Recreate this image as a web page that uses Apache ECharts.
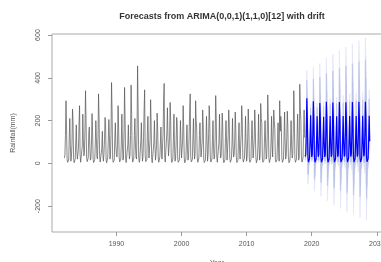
<!DOCTYPE html>
<html>
<head>
<meta charset="utf-8">
<script src="https://cdn.jsdelivr.net/npm/echarts@6/dist/echarts.min.js"></script>
<style>
  html, body { margin: 0; padding: 0; background: #fff; }
  #main { width: 381px; height: 262px; filter: blur(0.4px); }
</style>
</head>
<body>
<div id="main"></div>
<script>
// monthly rainfall (mm), one row per year, Jan..Dec
var obsStart = 1982;
var rainfall = [
  [25, 40, 130, 293, 160, 20, 5, 10, 15, 120, 210, 90],
  [10, 30, 90, 254, 200, 25, 3, 8, 20, 100, 180, 60],
  [20, 15, 70, 180, 270, 40, 5, 12, 10, 80, 230, 110],
  [35, 50, 160, 340, 190, 30, 8, 5, 25, 140, 170, 70],
  [15, 25, 100, 233, 150, 20, 4, 10, 18, 90, 200, 120],
  [30, 20, 120, 325, 210, 35, 6, 15, 12, 70, 150, 40],
  [10, 45, 110, 215, 180, 15, 3, 7, 30, 110, 205, 130],
  [20, 35, 140, 378, 240, 25, 5, 10, 15, 120, 190, 80],
  [40, 30, 90, 270, 170, 30, 7, 12, 20, 100, 230, 100],
  [15, 25, 150, 355, 200, 20, 4, 8, 10, 90, 180, 60],
  [20, 40, 130, 366, 230, 35, 6, 10, 25, 130, 210, 90],
  [30, 20, 160, 456, 260, 30, 5, 15, 20, 110, 190, 70],
  [10, 35, 120, 250, 344, 40, 8, 10, 18, 140, 220, 100],
  [25, 30, 110, 298, 180, 20, 3, 8, 12, 100, 200, 80],
  [15, 45, 90, 235, 160, 25, 5, 12, 30, 90, 170, 60],
  [20, 25, 140, 300, 374, 35, 6, 10, 15, 150, 260, 120],
  [35, 40, 120, 285, 200, 30, 4, 8, 20, 110, 230, 90],
  [10, 20, 90, 215, 190, 20, 5, 10, 15, 80, 200, 100],
  [25, 30, 110, 270, 170, 25, 3, 12, 20, 100, 180, 70],
  [15, 35, 130, 240, 325, 30, 7, 10, 18, 120, 210, 80],
  [20, 45, 293, 200, 160, 25, 5, 8, 25, 130, 190, 100],
  [30, 25, 100, 250, 180, 20, 4, 10, 15, 90, 220, 110],
  [10, 40, 140, 270, 200, 35, 6, 12, 20, 110, 200, 70],
  [20, 30, 120, 317, 210, 30, 5, 10, 12, 100, 230, 90],
  [25, 35, 110, 235, 170, 20, 3, 8, 18, 120, 200, 100],
  [15, 20, 130, 250, 190, 25, 5, 10, 20, 90, 210, 80],
  [30, 40, 100, 240, 160, 30, 4, 12, 15, 110, 190, 60],
  [20, 25, 140, 270, 200, 25, 6, 10, 25, 100, 220, 90],
  [10, 35, 120, 254, 180, 20, 5, 8, 18, 130, 200, 110],
  [25, 30, 110, 250, 170, 35, 3, 12, 20, 90, 230, 80],
  [15, 45, 280, 210, 190, 25, 5, 10, 15, 120, 200, 100],
  [20, 30, 130, 320, 200, 30, 4, 8, 25, 100, 220, 90],
  [30, 25, 250, 200, 160, 20, 6, 10, 18, 110, 190, 70],
  [10, 293, 150, 220, 180, 25, 5, 12, 20, 130, 240, 100],
  [20, 35, 120, 244, 170, 30, 3, 10, 15, 90, 200, 80],
  [25, 40, 140, 340, 210, 25, 5, 8, 20, 120, 230, 110],
  [15, 30, 370, 260, 200, 35, 6, 12, 25, 140, 250, 120]
];

// point forecasts 2019..2028
var fcStart = 2019;
var forecastMean = [
  [32, 42, 135, 305, 205, 32, 6, 11, 22, 112, 225, 102],
  [30, 40, 130, 290, 200, 30, 5, 10, 20, 110, 220, 100],
  [31, 41, 128, 282, 198, 31, 5, 10, 21, 108, 218, 99],
  [30, 40, 130, 288, 201, 30, 5, 10, 20, 110, 221, 100],
  [31, 41, 131, 285, 200, 31, 6, 11, 21, 111, 220, 101],
  [31, 41, 131, 287, 201, 31, 6, 11, 21, 111, 221, 101],
  [32, 42, 132, 286, 202, 32, 6, 11, 22, 112, 222, 102],
  [32, 42, 132, 287, 202, 32, 6, 11, 22, 112, 222, 102],
  [32, 42, 133, 288, 203, 32, 6, 12, 22, 113, 223, 103],
  [33, 43, 133, 288, 203, 33, 7, 12, 23, 113, 223, 103]
];

// half widths of the 95% interval
var width95 = [
  [20, 26, 78, 130, 130, 130, 78, 26, 20, 39, 52, 26],
  [24, 32, 96, 160, 160, 160, 96, 32, 24, 48, 64, 32],
  [28, 37, 111, 185, 185, 185, 111, 37, 28, 56, 74, 37],
  [31, 41, 123, 205, 205, 205, 123, 41, 31, 62, 82, 41],
  [34, 45, 135, 225, 225, 225, 135, 45, 34, 68, 90, 45],
  [36, 48, 145, 242, 242, 242, 145, 48, 36, 73, 97, 48],
  [39, 52, 155, 258, 258, 258, 155, 52, 39, 77, 103, 52],
  [41, 54, 163, 272, 272, 272, 163, 54, 41, 82, 109, 54],
  [43, 57, 172, 286, 286, 286, 172, 57, 43, 86, 114, 57],
  [45, 60, 180, 300, 300, 300, 180, 60, 45, 90, 120, 60]
];

// half widths of the 80% interval
var width80 = [
  [13, 17, 51, 85, 85, 85, 51, 17, 13, 26, 34, 17],
  [16, 21, 63, 105, 105, 105, 63, 21, 16, 31, 42, 21],
  [18, 24, 73, 121, 121, 121, 73, 24, 18, 37, 48, 24],
  [20, 27, 80, 134, 134, 134, 80, 27, 20, 41, 54, 27],
  [22, 29, 88, 147, 147, 147, 88, 29, 22, 44, 59, 29],
  [24, 31, 95, 158, 158, 158, 95, 31, 24, 48, 63, 31],
  [25, 34, 101, 169, 169, 169, 101, 34, 25, 50, 67, 34],
  [27, 35, 107, 178, 178, 178, 107, 35, 27, 54, 71, 35],
  [28, 37, 112, 187, 187, 187, 112, 37, 28, 56, 75, 37],
  [29, 39, 118, 196, 196, 196, 118, 39, 29, 59, 78, 39]
];

var xTicks = [1990, 2000, 2010, 2020, 2030];
var yTicks = [-200, 0, 200, 400, 600];

function toPoints(rows, start) {
  var out = [];
  rows.forEach(function (row, i) {
    row.forEach(function (v, m) {
      out.push([start + i + m / 12, v]);
    });
  });
  return out;
}

var obsData = toPoints(rainfall, obsStart);
var meanData = toPoints(forecastMean, fcStart);

// [x, lower, upper] per forecast month
function intervalPoints(widths) {
  var out = [];
  forecastMean.forEach(function (row, i) {
    row.forEach(function (v, m) {
      var w = widths[i][m];
      out.push([fcStart + i + m / 12, v - w, v + w]);
    });
  });
  return out;
}

// one quad per pair of neighbouring months
function segments(pts) {
  var out = [];
  for (var i = 0; i < pts.length - 1; i++) {
    out.push([pts[i][0], pts[i][1], pts[i][2], pts[i + 1][0], pts[i + 1][1], pts[i + 1][2]]);
  }
  return out;
}

function bandSeries(name, data, color) {
  return {
    name: name,
    type: 'custom',
    clip: true,
    data: data,
    encode: { x: [0, 3], y: [1, 2, 4, 5] },
    renderItem: function (params, api) {
      var a = api.coord([api.value(0), api.value(1)]);
      var b = api.coord([api.value(0), api.value(2)]);
      var c = api.coord([api.value(3), api.value(5)]);
      var d = api.coord([api.value(3), api.value(4)]);
      return {
        type: 'polygon',
        shape: { points: [a, b, c, d] },
        style: { fill: color, stroke: color, lineWidth: 0.3 }
      };
    }
  };
}

var chart = echarts.init(document.getElementById('main'), null, { renderer: 'canvas' });

var axisText = { color: '#555', fontSize: 7, fontFamily: 'Liberation Sans, Arial, sans-serif' };

var options = {
  animation: false,
  title: {
    text: 'Forecasts from ARIMA(0,0,1)(1,1,0)[12] with drift',
    left: 217,
    textAlign: 'center',
    top: 7,
    textStyle: { fontSize: 9, fontWeight: 'bold', color: '#333', fontFamily: 'Liberation Sans, Arial, sans-serif' }
  },
  grid: {
    left: 52, right: -1, top: 34, bottom: 30,
    show: true, borderColor: '#aaa', borderWidth: 1,
    outerBoundsMode: 'none'
  },
  xAxis: {
    type: 'value',
    min: 1980.1, max: 2030.8,
    name: 'Year', nameLocation: 'middle', nameGap: 28,
    nameTextStyle: axisText,
    axisLine: { show: false, onZero: false },
    axisTick: { show: true, length: 4, lineStyle: { color: '#999' }, customValues: xTicks },
    axisLabel: Object.assign({
      margin: 9, customValues: xTicks,
      formatter: function (v) { return String(v); }
    }, axisText),
    splitLine: { show: false }
  },
  yAxis: {
    type: 'value',
    min: -321, max: 605,
    name: 'Rainfall(mm)', nameLocation: 'middle', nameGap: 35, nameRotate: 90,
    nameTextStyle: axisText,
    axisLine: { show: false, onZero: false },
    axisTick: { show: true, length: 4, lineStyle: { color: '#999' }, customValues: yTicks },
    axisLabel: Object.assign({
      margin: 10, rotate: 90, customValues: yTicks,
      formatter: function (v) { return String(v); }
    }, axisText),
    splitLine: { show: false }
  },
  series: [
    bandSeries('95%', segments(intervalPoints(width95)), '#DDE1F6'),
    bandSeries('80%', segments(intervalPoints(width80)), '#B7BFE8'),
    {
      name: 'observed', type: 'line', data: obsData, symbol: 'none',
      lineStyle: { color: '#555', width: 0.7 }
    },
    {
      name: 'forecast', type: 'line', data: meanData, symbol: 'none',
      lineStyle: { color: '#0000FF', width: 1.2 }
    }
  ]
};

chart.setOption(options);
</script>
</body>
</html>
